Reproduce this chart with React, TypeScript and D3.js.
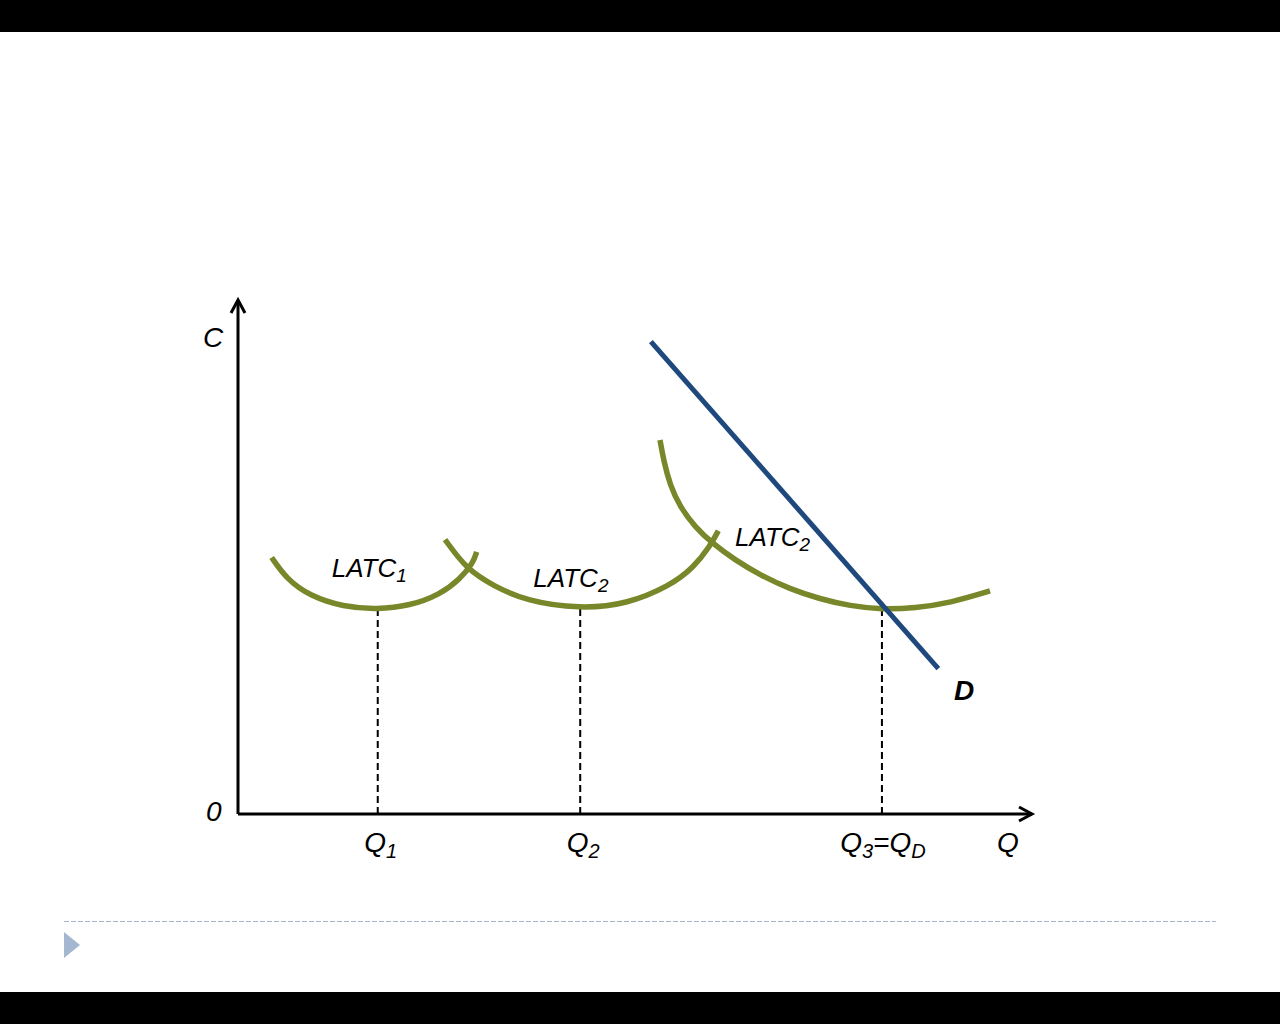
import React from "react";
import * as d3 from "d3";

// ---- data (chart units: Q on x 0..100, C on y 0..100) ----
const latc1X = [4.24, 6.13, 9.07, 13.26, 17.47, 21.66, 25.44, 27.96, 29.63, 30.06];
const latc1Y = [49.9, 45.7, 42.4, 40.3, 39.8, 40.5, 42.7, 45.7, 48.9, 51.0];

const latc2X = [26.07, 28.8, 32.15, 36.36, 43.07, 48.95, 54.41, 57.34, 59.45, 60.49];
const latc2Y = [53.4, 47.6, 44.4, 41.4, 39.9, 40.8, 44.4, 47.9, 52.1, 55.1];

const latc3X = [53.15, 53.65, 54.41, 55.67, 57.56, 59.7, 62.59, 65.74, 69.52, 73.3, 77.08, 81.11, 85.26, 89.67, 94.71];
const latc3Y = [72.76, 68.48, 64.01, 59.73, 55.84, 52.72, 49.42, 46.5, 43.77, 41.83, 40.47, 39.79, 40.08, 41.05, 43.39];

const demandX = [52.0, 88.2];
const demandY = [91.9, 28.3];

const qMarks = [17.6, 43.1, 81.1];
const qMinC = 39.9;
const qLabels = [
  { main: "Q", sub: "1", after: "", sub2: "" },
  { main: "Q", sub: "2", after: "", sub2: "" },
  { main: "Q", sub: "3", after: "=Q", sub2: "D" },
];

const curveLabelX = [11.8, 37.2, 62.6];
const curveLabelY = [46.1, 44.2, 52.1];
const curveLabelSub = ["1", "2", "2"];

const W = 1280;
const H = 1024;
const OLIVE = "#788729";
const BLUE = "#1f497d";
const FONT = "Arial, 'Liberation Sans', sans-serif";

export default function App() {
  const x = d3.scaleLinear().domain([0, 100]).range([238, 1032]);
  const y = d3.scaleLinear().domain([0, 100]).range([814, 300]);

  const line = d3
    .line<[number, number]>()
    .x((d) => x(d[0]))
    .y((d) => y(d[1]))
    .curve(d3.curveBasis);

  const straight = d3
    .line<[number, number]>()
    .x((d) => x(d[0]))
    .y((d) => y(d[1]));

  const zip = (a: number[], b: number[]) =>
    a.map((v, i) => [v, b[i]] as [number, number]);

  const curves = [zip(latc1X, latc1Y), zip(latc2X, latc2Y), zip(latc3X, latc3Y)];
  const demand = zip(demandX, demandY);

  const x0 = x(0);
  const y0 = y(0);
  const xEnd = x(100);
  const yEnd = y(100);

  return (
    <svg
      width={W}
      height={H}
      style={{ position: "absolute", left: 0, top: 0, background: "#fff" }}
    >
      <rect x={0} y={0} width={W} height={32} fill="#000" />
      <rect x={0} y={992} width={W} height={32} fill="#000" />

      {/* dashed drop lines */}
      {qMarks.map((q, i) => (
        <line
          key={"dq" + i}
          x1={x(q)}
          x2={x(q)}
          y1={y(qMinC)}
          y2={y0}
          stroke="#000"
          strokeWidth={2}
          strokeDasharray="7,4"
        />
      ))}

      {/* axes */}
      <line x1={x0} y1={y0} x2={x0} y2={yEnd} stroke="#000" strokeWidth={3} />
      <line x1={x0} y1={y0} x2={xEnd} y2={y0} stroke="#000" strokeWidth={3} />
      <polyline
        points={`${x0 - 7},${yEnd + 13} ${x0},${yEnd} ${x0 + 7},${yEnd + 13}`}
        fill="none"
        stroke="#000"
        strokeWidth={3}
      />
      <polyline
        points={`${xEnd - 13},${y0 - 7} ${xEnd},${y0} ${xEnd - 13},${y0 + 7}`}
        fill="none"
        stroke="#000"
        strokeWidth={3}
      />

      {/* LATC curves */}
      {curves.map((c, i) => (
        <path
          key={"c" + i}
          d={line(c) || ""}
          fill="none"
          stroke={OLIVE}
          strokeWidth={5.5}
        />
      ))}

      {/* demand */}
      <path d={straight(demand) || ""} fill="none" stroke={BLUE} strokeWidth={5} />

      {/* texts */}
      <g fontFamily={FONT} fontStyle="italic" fill="#000">
        <text x={203} y={347} fontSize={28}>C</text>
        <text x={206} y={821} fontSize={28}>0</text>
        <text x={997} y={852} fontSize={28}>Q</text>
        <text x={954} y={700} fontSize={28} fontWeight="bold">D</text>

        {curveLabelX.map((lx, i) => (
          <text key={"l" + i} x={x(lx)} y={y(curveLabelY[i])} fontSize={26}>
            LATC
            <tspan fontSize={19} dy={5}>{curveLabelSub[i]}</tspan>
          </text>
        ))}

        {qLabels.map((q, i) => (
          <text
            key={"q" + i}
            x={x(qMarks[i]) + (i === 2 ? 1 : 3)}
            y={852}
            fontSize={28}
            textAnchor="middle"
          >
            {q.main}
            <tspan fontSize={20} dy={6}>{q.sub}</tspan>
            {q.after ? <tspan dy={-6}>{q.after}</tspan> : null}
            {q.sub2 ? <tspan fontSize={20} dy={6}>{q.sub2}</tspan> : null}
          </text>
        ))}
      </g>

      {/* footer decoration */}
      <line
        x1={64}
        x2={1216}
        y1={921.5}
        y2={921.5}
        stroke="#a3b6cc"
        strokeWidth={1}
        strokeDasharray="5,2"
      />
      <polygon points="64,932 80,945 64,958" fill="#a3b8d0" />
    </svg>
  );
}
